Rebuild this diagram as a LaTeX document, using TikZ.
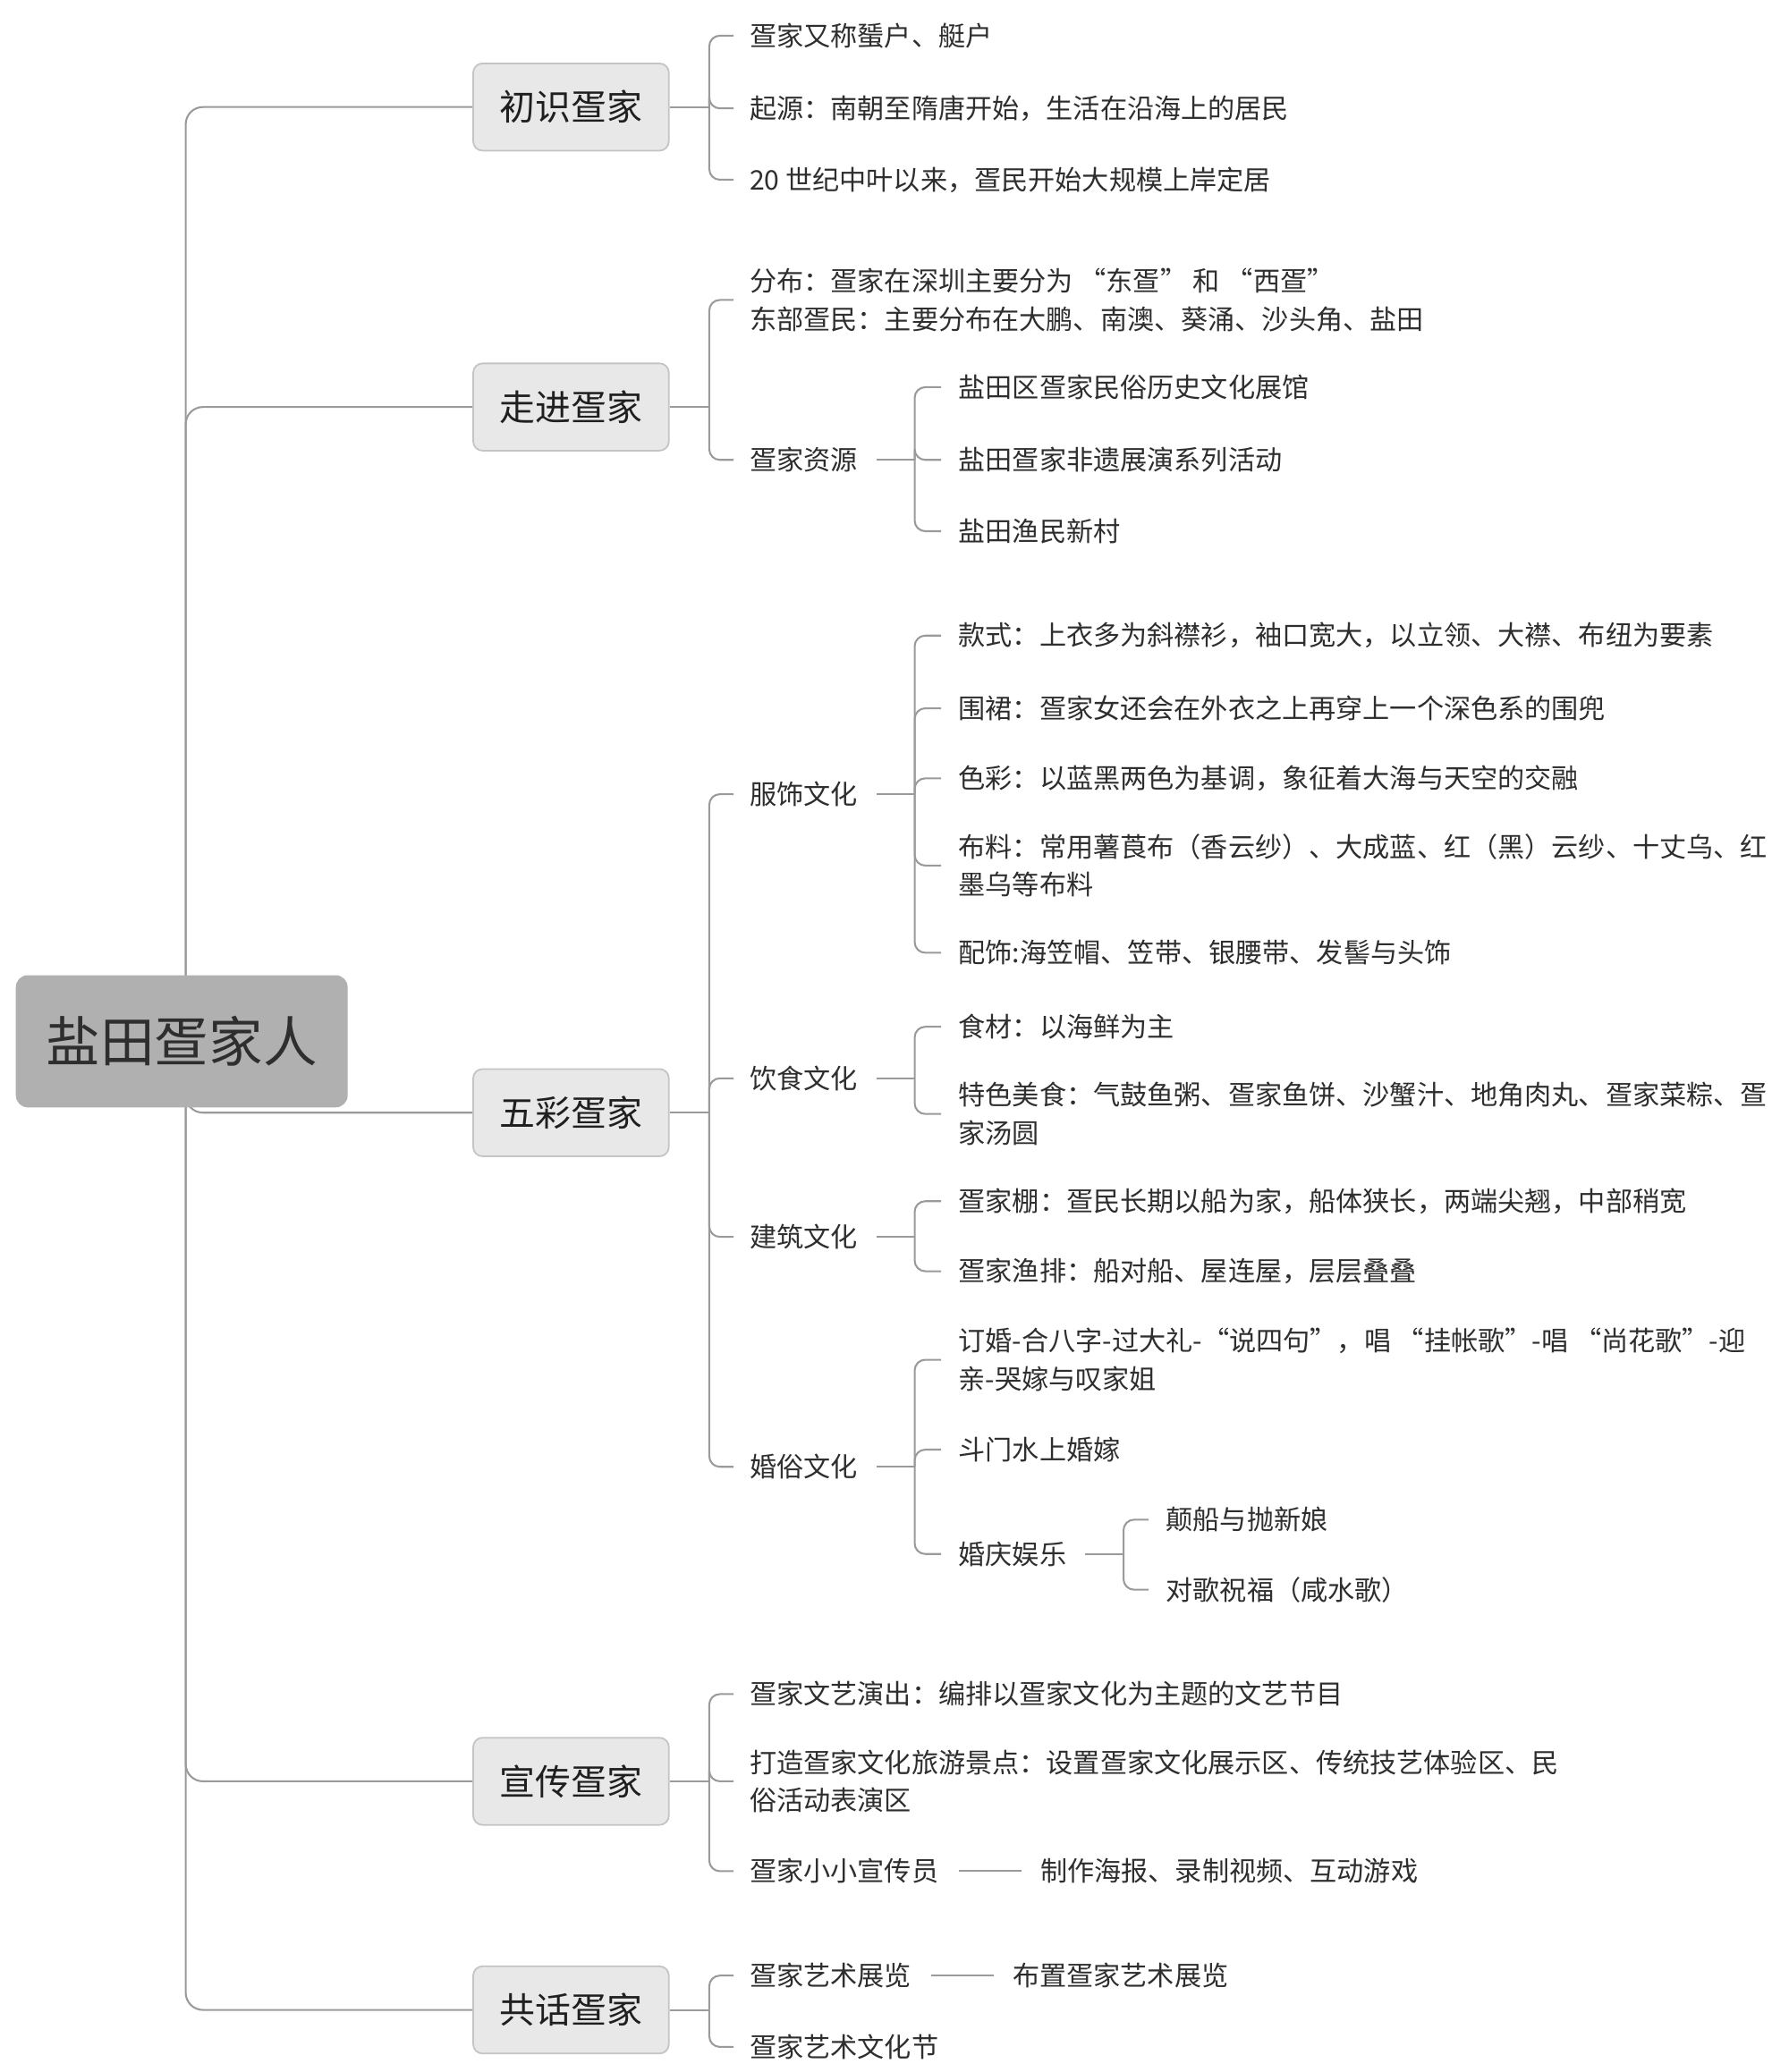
\documentclass[tikz,border=0pt]{standalone}
\usepackage{fontspec}
\setmainfont{Noto Sans CJK SC}
\usetikzlibrary{calc}
\definecolor{linegray}{HTML}{9A9A9A}
\definecolor{rootfill}{HTML}{B0B0B0}
\definecolor{boxfill}{HTML}{E8E8E8}
\definecolor{boxdraw}{HTML}{C4C4C4}
\definecolor{txt}{HTML}{2E2E2E}
\pgfdeclarelayer{background}
\pgfsetlayers{background,main}
\tikzset{
  rootbox/.style={fill=rootfill, rounded corners=9pt, minimum width=251pt, minimum height=100pt,
    text=txt, font=\fontsize{41}{41}\selectfont, inner sep=0pt},
  topicbox/.style={fill=boxfill, draw=boxdraw, line width=1.2pt, rounded corners=7pt,
    minimum width=148pt, minimum height=66pt, text=black!88, font=\fontsize{27}{27}\selectfont, inner sep=0pt},
  leaf/.style={anchor=west, inner sep=0pt, text=txt, align=left, font=\fontsize{20.4}{29}\selectfont},
  conn/.style={draw=linegray, line width=1.4pt, rounded corners=8pt},
  trunk/.style={draw=linegray, line width=1.4pt, rounded corners=13pt},
}
\begin{document}
\begin{tikzpicture}[x=1pt,y=-1pt]
\useasboundingbox (0,0) rectangle (1353,1568);

% root
\node[rootbox] (root) at (137.5,788) {盐田疍家人};

% level 1
\node[topicbox] (b1) at (432,81) {初识疍家};
\node[topicbox] (b2) at (432,308) {走进疍家};
\node[topicbox] (b3) at (432,842) {五彩疍家};
\node[topicbox] (b4) at (432,1348) {宣传疍家};
\node[topicbox] (b5) at (432,1521) {共话疍家};

% b1 children
\node[leaf] (c11) at (567,27) {疍家又称蜑户、艇户};
\node[leaf] (c12) at (567,82) {起源：南朝至隋唐开始，生活在沿海上的居民};
\node[leaf] (c13) at (567,136) {20 世纪中叶以来，疍民开始大规模上岸定居};

% b2 children
\node[leaf] (c21) at (567,227) {分布：疍家在深圳主要分为 “东疍” 和 “西疍”\\东部疍民：主要分布在大鹏、南澳、葵涌、沙头角、盐田};
\node[leaf] (c22) at (567,348) {疍家资源};
\node[leaf] (c221) at (725,293) {盐田区疍家民俗历史文化展馆};
\node[leaf] (c222) at (725,348) {盐田疍家非遗展演系列活动};
\node[leaf] (c223) at (725,402) {盐田渔民新村};

% b3 children
\node[leaf] (c31) at (567,601) {服饰文化};
\node[leaf] (c311) at (725,481) {款式：上衣多为斜襟衫，袖口宽大，以立领、大襟、布纽为要素};
\node[leaf] (c312) at (725,536) {围裙：疍家女还会在外衣之上再穿上一个深色系的围兜};
\node[leaf] (c313) at (725,589) {色彩：以蓝黑两色为基调，象征着大海与天空的交融};
\node[leaf] (c314) at (725,655) {布料：常用薯莨布（香云纱）、大成蓝、红（黑）云纱、十丈乌、红\\墨乌等布料};
\node[leaf] (c315) at (725,721) {配饰:海笠帽、笠带、银腰带、发髻与头饰};

\node[leaf] (c32) at (567,816) {饮食文化};
\node[leaf] (c321) at (725,777) {食材：以海鲜为主};
\node[leaf] (c322) at (725,843) {特色美食：气鼓鱼粥、疍家鱼饼、沙蟹汁、地角肉丸、疍家菜粽、疍\\家汤圆};

\node[leaf] (c33) at (567,936) {建筑文化};
\node[leaf] (c331) at (725,909) {疍家棚：疍民长期以船为家，船体狭长，两端尖翘，中部稍宽};
\node[leaf] (c332) at (725,962) {疍家渔排：船对船、屋连屋，层层叠叠};

\node[leaf] (c34) at (567,1110) {婚俗文化};
\node[leaf] (c341) at (725,1029) {订婚-合八字-过大礼-“说四句”，唱 “挂帐歌”-唱 “尚花歌”-迎\\亲-哭嫁与叹家姐};
\node[leaf] (c342) at (725,1097) {斗门水上婚嫁};
\node[leaf] (c343) at (725,1176) {婚庆娱乐};
\node[leaf] (c3431) at (882,1150) {颠船与抛新娘};
\node[leaf] (c3432) at (882,1203) {对歌祝福（咸水歌）};

% b4 children
\node[leaf] (c41) at (567,1282) {疍家文艺演出：编排以疍家文化为主题的文艺节目};
\node[leaf] (c42) at (567,1348) {打造疍家文化旅游景点：设置疍家文化展示区、传统技艺体验区、民\\俗活动表演区};
\node[leaf] (c43) at (567,1416) {疍家小小宣传员};
\node[leaf] (c431) at (787,1416) {制作海报、录制视频、互动游戏};

% b5 children
\node[leaf] (c51) at (567,1495) {疍家艺术展览};
\node[leaf] (c511) at (766,1495) {布置疍家艺术展览};
\node[leaf] (c52) at (567,1549) {疍家艺术文化节};

\begin{pgfonlayer}{background}
\fill[white] (0,0) rectangle (1353,1568);
% trunk
\foreach \b in {b1,b2,b3,b4,b5}
  \draw[trunk] ([xshift=3pt]root.center) |- (\b.west);

% level-1 brackets
\draw[conn] (b1.east) -- ([xshift=30pt]b1.east);
\foreach \c in {c11,c12,c13}
  \draw[conn] ([xshift=30pt]b1.east) |- ([xshift=-12pt]\c.west);

\draw[conn] (b2.east) -- ([xshift=30pt]b2.east);
\foreach \c in {c21,c22}
  \draw[conn] ([xshift=30pt]b2.east) |- ([xshift=-12pt]\c.west);

\draw[conn] (b3.east) -- ([xshift=30pt]b3.east);
\foreach \c in {c31,c32,c33,c34}
  \draw[conn] ([xshift=30pt]b3.east) |- ([xshift=-12pt]\c.west);

\draw[conn] (b4.east) -- ([xshift=30pt]b4.east);
\foreach \c in {c41,c42,c43}
  \draw[conn] ([xshift=30pt]b4.east) |- ([xshift=-12pt]\c.west);

\draw[conn] (b5.east) -- ([xshift=30pt]b5.east);
\foreach \c in {c51,c52}
  \draw[conn] ([xshift=30pt]b5.east) |- ([xshift=-12pt]\c.west);

% level-2 brackets
\draw[conn] ([xshift=14pt]c22.east) -- ([xshift=43pt]c22.east);
\foreach \c in {c221,c222,c223}
  \draw[conn] ([xshift=43pt]c22.east) |- ([xshift=-13pt]\c.west);

\draw[conn] ([xshift=14pt]c31.east) -- ([xshift=43pt]c31.east);
\foreach \c in {c311,c312,c313,c314,c315}
  \draw[conn] ([xshift=43pt]c31.east) |- ([xshift=-13pt]\c.west);

\draw[conn] ([xshift=14pt]c32.east) -- ([xshift=43pt]c32.east);
\foreach \c in {c321,c322}
  \draw[conn] ([xshift=43pt]c32.east) |- ([xshift=-13pt]\c.west);

\draw[conn] ([xshift=14pt]c33.east) -- ([xshift=43pt]c33.east);
\foreach \c in {c331,c332}
  \draw[conn] ([xshift=43pt]c33.east) |- ([xshift=-13pt]\c.west);

\draw[conn] ([xshift=14pt]c34.east) -- ([xshift=43pt]c34.east);
\foreach \c in {c341,c342,c343}
  \draw[conn] ([xshift=43pt]c34.east) |- ([xshift=-13pt]\c.west);

\draw[conn] ([xshift=14pt]c343.east) -- ([xshift=43pt]c343.east);
\foreach \c in {c3431,c3432}
  \draw[conn] ([xshift=43pt]c343.east) |- ([xshift=-13pt]\c.west);

% single-child lines
\draw[conn] ([xshift=15pt]c43.east) -- ([xshift=-14pt]c431.west);
\draw[conn] ([xshift=15pt]c51.east) -- ([xshift=-14pt]c511.west);
\end{pgfonlayer}
\end{tikzpicture}
\end{document}
